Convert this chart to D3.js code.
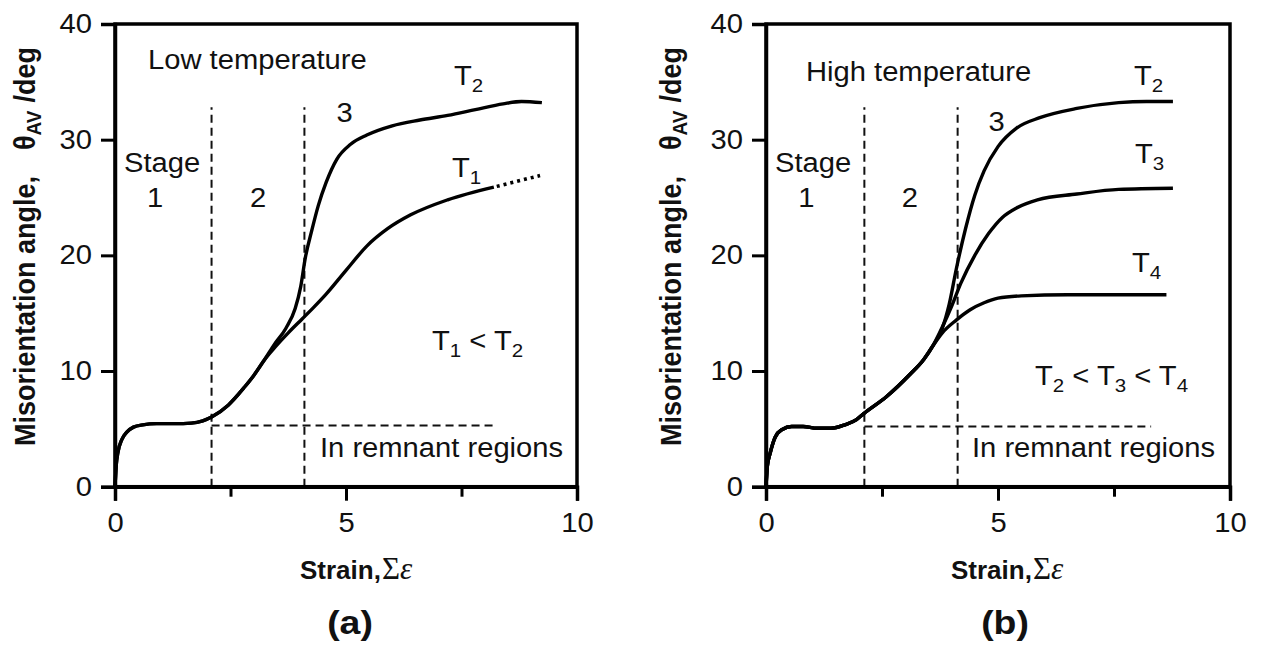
<!DOCTYPE html>
<html>
<head>
<meta charset="utf-8">
<script src="https://cdn.jsdelivr.net/npm/d3@7/dist/d3.min.js"></script>
<style>
  body { margin: 0; background: #fff; }
  svg { display: block; }
  text { font-family: "Liberation Sans", Arial, sans-serif; fill: #111; }
</style>
</head>
<body>
<div id="chart"></div>
<script>
// ---- data (strain, misorientation deg) ----
var xTicks = [0, 5, 10];
var xMinorTicks = [2.5, 7.5];
var yTicks = [0, 10, 20, 30, 40];

// low temperature panel (a)
var lowCommon = [[0,0],[0.03,2.0],[0.06,2.9],[0.15,4.1],[0.25,4.7],[0.4,5.15],[0.6,5.35],[0.9,5.45],[1.3,5.45],[1.65,5.5],[1.9,5.7],[2.1,6.05],[2.45,7.05],[2.8,8.6],[3.0,9.6],[3.24,11.0]];
var lowT2 = [[3.45,12.3],[3.7,13.7],[3.9,15.4],[4.02,17.3],[4.12,19.8],[4.25,22.0],[4.4,24.3],[4.57,26.3],[4.8,28.3],[5.1,29.6],[5.45,30.4],[6.0,31.2],[6.6,31.7],[7.2,32.1],[7.8,32.6],[8.4,33.1],[8.8,33.3],[9.24,33.2]];
var lowT1 = [[3.45,12.0],[3.75,13.3],[4.05,14.5],[4.3,15.5],[4.56,16.6],[5.0,18.7],[5.45,20.8],[5.9,22.3],[6.4,23.5],[7.2,24.8],[8.2,25.9]];
var lowT1Dotted = [[8.2,25.9],[8.7,26.4],[9.2,26.9]];

// high temperature panel (b)
var highCommon = [[0,0],[0.03,1.8],[0.09,2.9],[0.2,4.3],[0.35,4.95],[0.55,5.2],[0.8,5.2],[1.1,5.05],[1.4,5.05],[1.7,5.35],[1.95,5.8],[2.1,6.3],[2.6,7.8],[3.1,9.7],[3.4,11.0],[3.6,12.2]];
var highT2 = [[3.8,13.7],[3.95,15.8],[4.1,18.8],[4.3,22.3],[4.5,25.2],[4.7,27.3],[5.0,29.4],[5.4,31.0],[5.9,31.9],[6.7,32.7],[7.6,33.2],[8.2,33.3],[8.77,33.3]];
var highT3 = [[3.8,13.8],[4.0,15.6],[4.2,17.6],[4.5,20.0],[4.8,21.9],[5.1,23.3],[5.4,24.1],[5.85,24.8],[6.7,25.3],[7.6,25.7],[8.77,25.8]];
var highT4 = [[3.8,13.3],[4.1,14.4],[4.4,15.3],[4.7,15.9],[5.0,16.3],[5.5,16.5],[6.5,16.6],[8.63,16.6]];

// stage boundaries and remnant line
var lowStages = [2.09, 4.1];
var highStages = [2.12, 4.13];
var stageTop = 32.8;
var lowRemnant = [2.09, 8.26, 5.3];
var highRemnant = [2.12, 8.3, 5.2];

var W = 1264, H = 646;
var svg = d3.select("#chart").append("svg").attr("width", W).attr("height", H);
svg.append("rect").attr("width", W).attr("height", H).attr("fill", "#fff");

var SX = 1.08; // glyphs in the figure are a bit wide

function label(g, x, y, parts, opt) {
  opt = opt || {};
  var t = g.append("text")
    .attr("transform", "translate(" + x + "," + y + ") scale(" + (opt.sx || SX) + ",1)")
    .attr("text-anchor", opt.anchor || "start")
    .style("font-size", (opt.size || 27) + "px")
    .style("font-weight", opt.bold ? "bold" : "normal");
  parts.forEach(function (p) {
    var s = t.append("tspan").text(p.t);
    if (p.sub) s.attr("dy", 7).style("font-size", "19px");
    if (p.up) s.attr("dy", -7);
  });
  return t;
}

function drawPanel(o) {
  var x = d3.scaleLinear().domain([0, 10]).range([o.x0, o.x1]);
  var y = d3.scaleLinear().domain([0, 40]).range([486.7, 24]);
  var g = svg.append("g");

  var line = d3.line().x(function (d) { return x(d[0]); }).y(function (d) { return y(d[1]); })
    .curve(d3.curveMonotoneX);

  // dashed stage lines
  o.stages.forEach(function (s) {
    g.append("line").attr("x1", x(s)).attr("x2", x(s)).attr("y1", y(0)).attr("y2", y(stageTop))
      .attr("stroke", "#111").attr("stroke-width", 2).attr("stroke-dasharray", "8,5");
  });
  g.append("line").attr("x1", x(o.remnant[0])).attr("x2", x(o.remnant[1]))
    .attr("y1", y(o.remnant[2])).attr("y2", y(o.remnant[2]))
    .attr("stroke", "#111").attr("stroke-width", 2).attr("stroke-dasharray", "8,5");

  // curves
  o.curves.forEach(function (c) {
    g.append("path").attr("d", line(o.common.concat(c))).attr("fill", "none")
      .attr("stroke", "#000").attr("stroke-width", 3.4).attr("stroke-linejoin", "round");
  });
  if (o.dotted) {
    g.append("path").attr("d", line(o.dotted)).attr("fill", "none")
      .attr("stroke", "#000").attr("stroke-width", 3.6).attr("stroke-dasharray", "3,4")
      .attr("stroke-dashoffset", -3);
  }

  // frame
  g.append("rect").attr("x", x(0)).attr("y", y(40)).attr("width", x(10) - x(0)).attr("height", y(0) - y(40))
    .attr("fill", "none").attr("stroke", "#000").attr("stroke-width", 3.5);

  // axes
  var xa = g.append("g").attr("transform", "translate(0," + y(0) + ")")
    .call(d3.axisBottom(x).tickValues(xTicks).tickSize(14).tickPadding(12).tickFormat(d3.format("d")));
  g.append("g").attr("transform", "translate(0," + y(0) + ")")
    .call(d3.axisBottom(x).tickValues(xMinorTicks).tickSize(10).tickFormat(""))
    .call(function (a) { a.select(".domain").remove(); });
  var ya = g.append("g").attr("transform", "translate(" + x(0) + ",0)")
    .call(d3.axisLeft(y).tickValues(yTicks).tickSize(14).tickPadding(10).tickFormat(d3.format("d")));
  g.selectAll(".domain").attr("stroke-width", 3.5).attr("stroke", "#000");
  g.selectAll(".tick line").attr("stroke-width", 3).attr("stroke", "#000");
  g.selectAll(".tick text").style("font-size", "27px").style("font-family", "Liberation Sans, Arial, sans-serif")
    .attr("fill", "#111");
  xa.selectAll(".tick text").attr("transform", "scale(" + SX + ",1)");
  ya.selectAll(".tick text").attr("transform", "scale(" + SX + ",1)").attr("x", -23 / SX);

  // axis titles
  var xt = g.append("text")
    .attr("transform", "translate(" + o.xLabelX + ",579)")
    .style("font-size", "26px");
  xt.append("tspan").text("Strain,").style("font-weight", "bold");
  xt.append("tspan").attr("dx", 1).text("\u03a3").style("font-family", "Liberation Serif, Times New Roman, serif").style("font-size", "31px");
  xt.append("tspan").text("\u03b5").style("font-family", "Liberation Serif, Times New Roman, serif").style("font-style", "italic").style("font-size", "31px");

  var yt = g.append("text")
    .attr("transform", "translate(" + o.yLabelX + ",446) rotate(-90) scale(1," + SX + ")")
    .style("font-size", "27px").style("font-weight", "bold");
  yt.append("tspan").text("Misorientation angle,");
  yt.append("tspan").attr("dx", 26).text("\u03b8");
  yt.append("tspan").attr("dy", 6).style("font-size", "19px").text("AV");
  yt.append("tspan").attr("dy", -6).attr("dx", 8).text("/deg");

  label(g, o.capX, 634, [{t: o.cap}], {anchor: "middle", bold: true, size: 34, sx: 1.1});

  // annotations
  label(g, o.titleX, o.titleY, [{t: o.title}]);
  label(g, x(0) + 9, 171.7, [{t: "Stage"}]);
  label(g, x(0.87), 206.7, [{t: "1"}], {anchor: "middle"});
  label(g, x(3.1), 206.7, [{t: "2"}], {anchor: "middle"});
  label(g, x(4.97), o.threeY, [{t: "3"}], {anchor: "middle"});
  label(g, o.remX, 457, [{t: "In remnant regions"}]);
  o.tlabels.forEach(function (t) {
    label(g, t[0], t[1], [{t: "T"}, {t: t[2], sub: true}]);
  });
  label(g, o.ineqX, o.ineqY, o.ineq);
}

drawPanel({
  x0: 115, x1: 577,
  common: lowCommon, curves: [lowT2, lowT1], dotted: lowT1Dotted,
  stages: lowStages, remnant: lowRemnant,
  xLabelX: 300, yLabelX: 35, capX: 350, cap: "(a)",
  title: "Low temperature", titleX: 148, titleY: 69,
  threeY: 122, remX: 320,
  tlabels: [[454, 85, "2"], [452, 177, "1"]],
  ineqX: 432, ineqY: 350,
  ineq: [{t: "T"}, {t: "1", sub: true}, {t: " < T", up: true}, {t: "2", sub: true}]
});

drawPanel({
  x0: 766, x1: 1230,
  common: highCommon, curves: [highT2, highT3, highT4],
  stages: highStages, remnant: highRemnant,
  xLabelX: 951, yLabelX: 681, capX: 1005, cap: "(b)",
  title: "High temperature", titleX: 806, titleY: 81,
  threeY: 131, remX: 972,
  tlabels: [[1134, 85, "2"], [1135, 163, "3"], [1132, 272, "4"]],
  ineqX: 1035, ineqY: 385,
  ineq: [{t: "T"}, {t: "2", sub: true}, {t: " < T", up: true}, {t: "3", sub: true}, {t: " < T", up: true}, {t: "4", sub: true}]
});
</script>
</body>
</html>
